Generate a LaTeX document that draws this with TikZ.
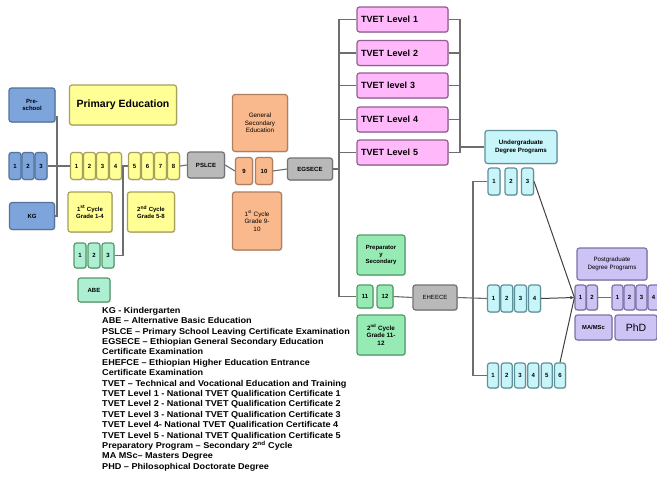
\documentclass[tikz,border=0pt]{standalone}
\usepackage{fontspec}
\setmainfont{Liberation Sans}
\usetikzlibrary{shadows,arrows.meta}
\definecolor{blueF}{RGB}{125,165,220}\definecolor{blueD}{RGB}{85,115,155}
\definecolor{yelF}{RGB}{255,255,150}\definecolor{yelD}{RGB}{165,160,90}
\definecolor{grayF}{RGB}{185,185,185}\definecolor{grayD}{RGB}{115,115,115}
\definecolor{oraF}{RGB}{250,185,140}\definecolor{oraD}{RGB}{175,125,95}
\definecolor{pinkF}{RGB}{255,185,250}\definecolor{pinkD}{RGB}{145,95,145}
\definecolor{cyaF}{RGB}{200,245,250}\definecolor{cyaD}{RGB}{95,145,155}
\definecolor{greF}{RGB}{150,235,180}\definecolor{greD}{RGB}{85,155,105}
\definecolor{purF}{RGB}{205,195,245}\definecolor{purD}{RGB}{125,115,165}
\definecolor{lineC}{RGB}{110,110,110}
\tikzset{
  bx/.style={rounded corners=2.5pt, line width=1.2pt, inner sep=0pt, align=center,
    font=\fontsize{6}{6.8}\selectfont\bfseries,
    drop shadow={shadow xshift=0.8pt,shadow yshift=-0.8pt,opacity=0.35}},
  bl/.style={bx, fill=blueF, draw=blueD},
  ye/.style={bx, fill=yelF, draw=yelD},
  gr/.style={bx, fill=grayF, draw=grayD},
  or/.style={bx, fill=oraF, draw=oraD},
  pk/.style={bx, fill=pinkF, draw=pinkD, font=\fontsize{9}{10}\selectfont\bfseries},
  cy/.style={bx, fill=cyaF, draw=cyaD},
  gn/.style={bx, fill=greF, draw=greD},
  pu/.style={bx, fill=purF, draw=purD},
  sz/.style 2 args={minimum width=#1pt, minimum height=#2pt},
  ln/.style={draw=lineC, line width=1.1pt},
}
\begin{document}
\begin{tikzpicture}[x=1pt,y=-1pt]
\useasboundingbox (0,0) rectangle (657,477);
\clip (0,0) rectangle (657,477);
\fill[white] (0,0) rectangle (657,477);
% coordinates
\coordinate (j1) at (57,166);
\coordinate (j2) at (123,166);
\coordinate (j3) at (339,169);
\coordinate (j4) at (460,147);
\coordinate (j5) at (473,298);
% left
\node[bl, sz={46}{34}] (pre) at (32,105) {Pre-\\school};
\node[bl, sz={12}{27}] (b1) at (15,166) {1};
\node[bl, sz={12}{27}] (b2) at (28,166) {2};
\node[bl, sz={12}{27}] (b3) at (41,166) {3};
\node[bl, sz={45}{27}] (kg) at (32,216) {KG};
\node[ye, sz={107}{40}, font=\fontsize{10.5}{12}\selectfont\bfseries] (prim) at (123,105) {Primary Education};
\foreach \i/\x in {1/76.5,2/89.5,3/102.5,4/115.5,5/134.5,6/147.5,7/160.5,8/173.5}
  \node[ye, sz={12}{27}] (y\i) at (\x,166) {\i};
\node[ye, sz={44}{40}] (cyc1) at (90,212) {1\textsuperscript{st} Cycle\\Grade 1-4};
\node[ye, sz={47}{40}] (cyc2) at (151,212) {2\textsuperscript{nd} Cycle\\Grade 5-8};
\foreach \i/\x in {1/80,2/94,3/108}
  \node[gn, fill=greF!55!cyaF, sz={12}{25}] (a\i) at (\x,255.5) {\i};
\node[gn, fill=greF!55!cyaF, sz={32}{24}] (abe) at (94,290) {ABE};
\node[gr, sz={37}{26}] (pslce) at (206,165) {PSLCE};
\node[or, sz={55}{57}, font=\fontsize{6.3}{7.5}\selectfont] (gse) at (260,123) {General\\Secondary\\Education};
\node[or, sz={17}{27}] (g9) at (244,171) {9};
\node[or, sz={17}{27}] (g10) at (264,171) {10};
\node[or, sz={49}{58}, font=\fontsize{6.3}{7.5}\selectfont] (gc1) at (257,221) {1\textsuperscript{st} Cycle\\Grade 9-\\10};
\node[gr, sz={45}{22}] (egsece) at (310,169) {EGSECE};
% TVET
\node[pk, sz={91}{25}, text width=83pt, align=left] (t1) at (402.5,19.5) {TVET Level 1};
\node[pk, sz={91}{25}, text width=83pt, align=left] (t2) at (402.5,53) {TVET Level 2};
\node[pk, sz={91}{25}, text width=83pt, align=left] (t3) at (402.5,85.5) {TVET level 3};
\node[pk, sz={91}{25}, text width=83pt, align=left] (t4) at (402.5,119.5) {TVET Level 4};
\node[pk, sz={91}{25}, text width=83pt, align=left] (t5) at (402.5,152.5) {TVET Level 5};
\node[cy, sz={72}{33}, font=\fontsize{6.2}{7.2}\selectfont\bfseries] (ug) at (521,147) {Undergraduate\\Degree Programs};
\foreach \i/\x in {1/494,2/511,3/527.5}
  \node[cy, sz={12}{27}] (u\i) at (\x,181.5) {\i};
% secondary prep
\node[gn, sz={48}{40}] (prep) at (381,255) {Preparator\\y\\Secondary};
\node[gn, sz={16}{23}] (g11) at (365,296.5) {11};
\node[gn, sz={16}{23}] (g12) at (385,296.5) {12};
\node[gn, sz={48}{40}, font=\fontsize{6.3}{7.5}\selectfont\bfseries] (gc2) at (381,335) {2\textsuperscript{nd} Cycle\\Grade 11-\\12};
\node[gr, sz={44}{25}, font=\fontsize{6}{7}\selectfont] (eheece) at (435,297.5) {EHEECE};
\foreach \i/\x in {1/493.5,2/506.8,3/520.5,4/534.5}
  \node[cy, sz={12}{27}] (m\i) at (\x,298.5) {\i};
\foreach \i/\x in {1/493,2/506.7,3/520,4/533.3,5/546.7,6/560}
  \node[cy, sz={11}{25}] (d\i) at (\x,375.5) {\i};
% postgraduate
\node[pu, sz={70}{32}, font=\fontsize{6.2}{7.4}\selectfont] (pg) at (612,264) {Postgraduate\\Degree Programs};
\node[pu, sz={11}{25}] (p1) at (580.5,297.5) {1};
\node[pu, sz={11}{25}] (p2) at (592,297.5) {2};
\foreach \i/\x in {1/617.5,2/629.5,3/641.5,4/653.5}
  \node[pu, sz={11}{25}] (q\i) at (\x,297.5) {\i};
\node[pu, sz={37}{25}, font=\fontsize{5.8}{7}\selectfont\bfseries] (ma) at (593.5,327.5) {MA/MSc};
\node[pu, sz={42}{25}, font=\fontsize{10.5}{12}\selectfont] (phd) at (636,327.5) {PhD};
% connectors
\draw[ln] ([yshift=-12pt]pre.east) -| (j1) |- (kg.east);
\draw[ln] (b3.east) -- (y1.west);
\draw[ln] (y4.east) -- (y5.west);
\draw[ln] (j2) |- (a3.east);
\draw[ln] (y8.east) -- (pslce.west);
\draw[ln] (pslce.east) -- (g9.west);
\draw[ln] (g10.east) -- (egsece.west);
\draw[ln] (egsece.east) -- (j3);
\draw[ln] (t1.west) -| (j3) |- (g11.west);
\foreach \t in {t2,t3,t4,t5} \draw[ln] (\t.west) -- (\t.west -| j3);
\draw[ln] (t1.east) -| (j4) |- (t5.east);
\foreach \t in {t2,t3,t4} \draw[ln] (\t.east) -- (\t.east -| j4);
\draw[ln] (j4) -- (ug.west);
\draw[ln] (g12.east) -- (eheece.west);
\draw[ln] (eheece.east) -- (m1.west);
\draw[ln] (u1.west) -| (j5) |- (d1.west);
\draw[ln, line width=1pt, draw=black!75] (u3.east) -- (p1.west);
\draw[ln, line width=1pt, draw=black!75] (d6.north) -- (p1.west);
\draw[ln, line width=1pt, draw=black!75, -{Latex[length=4pt,width=3.5pt]}] (m4.east) -- (p1.west);
\draw[ln] (p2.east) -- (q1.west);
% legend
\node[anchor=north west, align=left, inner sep=0pt, xscale=1.07, font=\fontsize{8.5}{10.4}\selectfont\bfseries] (leg) at (102,307) {%
KG - Kindergarten\\
ABE -- Alternative Basic Education\\
PSLCE -- Primary School Leaving Certificate Examination\\
EGSECE -- Ethiopian General Secondary Education\\
Certificate Examination\\
EHEFCE -- Ethiopian Higher Education Entrance\\
Certificate Examination\\
TVET -- Technical and Vocational Education and Training\\
TVET Level 1 - National TVET Qualification Certificate 1\\
TVET Level 2 - National TVET Qualification Certificate 2\\
TVET Level 3 - National TVET Qualification Certificate 3\\
TVET Level 4- National TVET Qualification Certificate 4\\
TVET Level 5 - National TVET Qualification Certificate 5\\
Preparatory Program -- Secondary 2\textsuperscript{nd} Cycle\\
MA MSc-- Masters Degree\\
PHD -- Philosophical Doctorate Degree};
\end{tikzpicture}
\end{document}
